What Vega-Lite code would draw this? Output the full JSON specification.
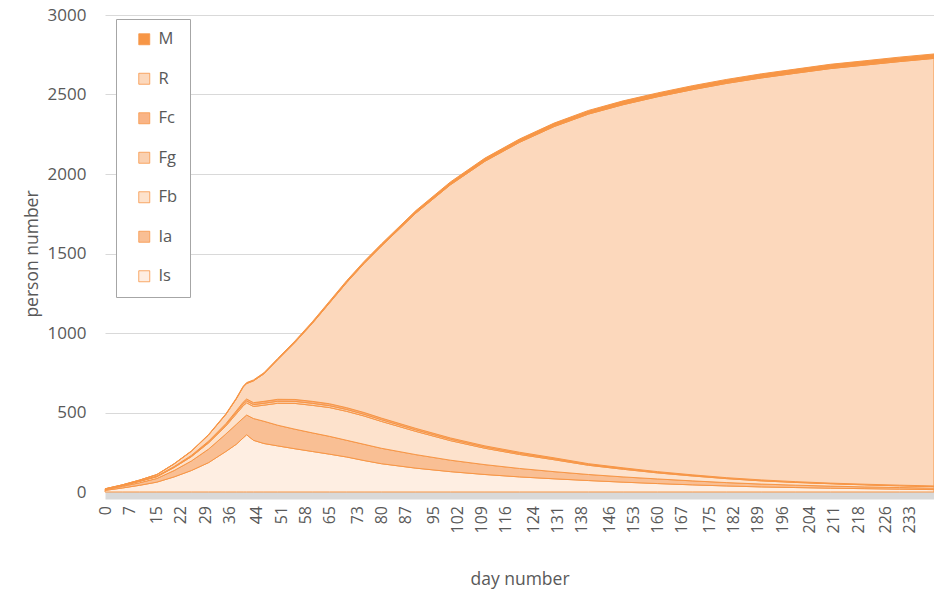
{
  "$schema": "https://vega.github.io/schema/vega-lite/v6.json",
  "width": 829,
  "height": 477,
  "autosize": {"type": "none"},
  "padding": {"left": 105, "top": 15, "right": 0, "bottom": 123},
  "background": "white",
  "config": {
    "font": "Open Sans",
    "view": {"stroke": null},
    "axis": {"labelColor": "#595959", "titleColor": "#595959", "titleFontWeight": "normal", "labelFont": "Open Sans", "titleFont": "Open Sans"}
  },
  "datasets": {
    "series": [
      {"key": "Is", "rank": 1},
      {"key": "Ia", "rank": 2},
      {"key": "Fb", "rank": 3},
      {"key": "Fg", "rank": 4},
      {"key": "Fc", "rank": 5},
      {"key": "R", "rank": 6},
      {"key": "M", "rank": 7}
    ]
  },
  "data": {
    "values": [
      {"day": 0, "Is": 10, "Ia": 5, "Fb": 2, "Fg": 0.5, "Fc": 0.5, "R": 2, "M": 0},
      {"day": 5, "Is": 25, "Ia": 10, "Fb": 5, "Fg": 1, "Fc": 1, "R": 2.7, "M": 0.3},
      {"day": 10, "Is": 42, "Ia": 16, "Fb": 9, "Fg": 1.5, "Fc": 1.5, "R": 4.5, "M": 0.5},
      {"day": 15, "Is": 62, "Ia": 23, "Fb": 11, "Fg": 2, "Fc": 2, "R": 9, "M": 1},
      {"day": 20, "Is": 95, "Ia": 40, "Fb": 19, "Fg": 3, "Fc": 3, "R": 16.5, "M": 1.5},
      {"day": 25, "Is": 135, "Ia": 60, "Fb": 27, "Fg": 4, "Fc": 4, "R": 26, "M": 2},
      {"day": 30, "Is": 185, "Ia": 85, "Fb": 39, "Fg": 6, "Fc": 5, "R": 39, "M": 3},
      {"day": 35, "Is": 255, "Ia": 110, "Fb": 50, "Fg": 8, "Fc": 7, "R": 58, "M": 4},
      {"day": 38, "Is": 300, "Ia": 125, "Fb": 66, "Fg": 10, "Fc": 9, "R": 75, "M": 5},
      {"day": 40, "Is": 340, "Ia": 125, "Fb": 77, "Fg": 12, "Fc": 11, "R": 95, "M": 5},
      {"day": 41, "Is": 360, "Ia": 124, "Fb": 77, "Fg": 12, "Fc": 12, "R": 97, "M": 6},
      {"day": 43, "Is": 325, "Ia": 137, "Fb": 76, "Fg": 12, "Fc": 12, "R": 137, "M": 6},
      {"day": 46, "Is": 305, "Ia": 140, "Fb": 101, "Fg": 12, "Fc": 12, "R": 173, "M": 7},
      {"day": 50, "Is": 290, "Ia": 130, "Fb": 138, "Fg": 13, "Fc": 12, "R": 249, "M": 8},
      {"day": 55, "Is": 272, "Ia": 123, "Fb": 162, "Fg": 13, "Fc": 12, "R": 359, "M": 9},
      {"day": 60, "Is": 255, "Ia": 117, "Fb": 173, "Fg": 13, "Fc": 12, "R": 490, "M": 10},
      {"day": 65, "Is": 238, "Ia": 112, "Fb": 181, "Fg": 12, "Fc": 12, "R": 634, "M": 11},
      {"day": 70, "Is": 220, "Ia": 105, "Fb": 182, "Fg": 12, "Fc": 11, "R": 788, "M": 12},
      {"day": 75, "Is": 198, "Ia": 102, "Fb": 178, "Fg": 11, "Fc": 11, "R": 937, "M": 13},
      {"day": 80, "Is": 178, "Ia": 97, "Fb": 169, "Fg": 11, "Fc": 10, "R": 1081, "M": 14},
      {"day": 90, "Is": 150, "Ia": 85, "Fb": 146, "Fg": 10, "Fc": 9, "R": 1354, "M": 16},
      {"day": 100, "Is": 128, "Ia": 72, "Fb": 123, "Fg": 9, "Fc": 8, "R": 1592, "M": 18},
      {"day": 110, "Is": 110, "Ia": 62, "Fb": 103, "Fg": 8, "Fc": 7, "R": 1790, "M": 20},
      {"day": 120, "Is": 95, "Ia": 53, "Fb": 88, "Fg": 7, "Fc": 7, "R": 1949, "M": 21},
      {"day": 130, "Is": 83, "Ia": 45, "Fb": 75, "Fg": 6, "Fc": 6, "R": 2083, "M": 22},
      {"day": 140, "Is": 72, "Ia": 38, "Fb": 58, "Fg": 5, "Fc": 5, "R": 2199, "M": 23},
      {"day": 150, "Is": 62, "Ia": 33, "Fb": 48, "Fg": 5, "Fc": 4, "R": 2284, "M": 24},
      {"day": 160, "Is": 53, "Ia": 29, "Fb": 38, "Fg": 4, "Fc": 4, "R": 2358, "M": 24},
      {"day": 170, "Is": 45, "Ia": 25, "Fb": 31, "Fg": 4, "Fc": 3, "R": 2422, "M": 25},
      {"day": 180, "Is": 38, "Ia": 21, "Fb": 25, "Fg": 3, "Fc": 3, "R": 2480, "M": 25},
      {"day": 190, "Is": 32, "Ia": 18, "Fb": 20, "Fg": 3, "Fc": 3, "R": 2528, "M": 26},
      {"day": 200, "Is": 28, "Ia": 15, "Fb": 17, "Fg": 2.5, "Fc": 2.5, "R": 2569, "M": 26},
      {"day": 210, "Is": 24, "Ia": 13, "Fb": 15, "Fg": 2, "Fc": 2, "R": 2607, "M": 27},
      {"day": 220, "Is": 21, "Ia": 11, "Fb": 13, "Fg": 2, "Fc": 2, "R": 2636, "M": 27},
      {"day": 230, "Is": 18, "Ia": 10, "Fb": 11, "Fg": 2, "Fc": 2, "R": 2664, "M": 28},
      {"day": 240, "Is": 15, "Ia": 9, "Fb": 10, "Fg": 2, "Fc": 2, "R": 2689, "M": 28}
    ]
  },
  "transform": [
    {"fold": ["Is", "Ia", "Fb", "Fg", "Fc", "R", "M"], "as": ["series", "value"]},
    {"lookup": "series", "from": {"data": {"name": "series"}, "key": "key", "fields": ["rank"]}}
  ],
  "mark": {"type": "area", "stroke": "#F79646", "strokeWidth": 1, "fillOpacity": 1, "interpolate": "linear"},
  "encoding": {
    "x": {
      "field": "day",
      "type": "quantitative",
      "title": "day number",
      "scale": {"domain": [0, 240], "nice": false, "zero": true},
      "axis": {
        "values": [0, 7, 15, 22, 29, 36, 44, 51, 58, 65, 73, 80, 87, 95, 102, 109, 116, 124, 131, 138, 146, 153, 160, 167, 175, 182, 189, 196, 204, 211, 218, 226, 233],
        "grid": false,
        "ticks": false,
        "domainColor": "#d9d9d9",
        "domainWidth": 7,
        "offset": 3.5,
        "labelAngle": -90,
        "labelFontSize": 16,
        "labelPadding": 10,
        "labelOverlap": false,
        "labelFlush": false,
        "titleFontSize": 17.5,
        "titlePadding": 38
      }
    },
    "y": {
      "field": "value",
      "type": "quantitative",
      "stack": "zero",
      "title": "person number",
      "scale": {"domain": [0, 3000], "nice": false},
      "axis": {
        "values": [0, 500, 1000, 1500, 2000, 2500, 3000],
        "format": "d",
        "grid": true,
        "gridColor": "#d9d9d9",
        "domain": false,
        "ticks": false,
        "labelPadding": 19,
        "labelFontSize": 17,
        "titleFontSize": 17.5,
        "titlePadding": 6
      }
    },
    "color": {
      "field": "series",
      "type": "nominal",
      "scale": {
        "domain": ["M", "R", "Fc", "Fg", "Fb", "Ia", "Is"],
        "range": ["#F79646", "#FCD8BC", "#F9B486", "#FAD0B0", "#FDE2CC", "#F9BF94", "#FEEEE2"]
      },
      "legend": {
        "orient": "none",
        "legendX": 11,
        "legendY": 4,
        "title": null,
        "symbolType": "square",
        "symbolSize": 121,
        "symbolOffset": 8,
        "symbolStrokeColor": "#F79646",
        "symbolStrokeWidth": 0.8,
        "labelOffset": 6,
        "labelFontSize": 16.5,
        "labelColor": "#595959",
        "labelFont": "Open Sans",
        "rowPadding": 22.5,
        "padding": 12,
        "strokeColor": "#a6a6a6",
        "fillColor": "white"
      }
    },
    "order": {"field": "rank", "type": "quantitative", "sort": "ascending"}
  }
}
